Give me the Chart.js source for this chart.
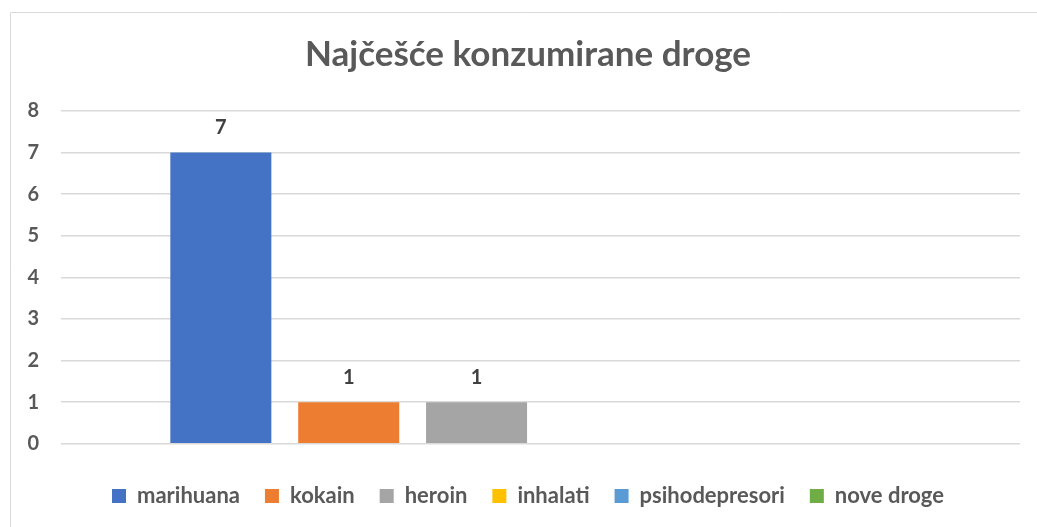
<!DOCTYPE html>
<html>
<head>
<meta charset="utf-8">
<script src="https://cdn.jsdelivr.net/npm/chart.js@4"></script>
<style>
html,body{margin:0;padding:0;background:#fff;}
#wrap{position:relative;width:1037px;height:527px;}
</style>
</head>
<body>
<div id="wrap"><canvas id="c" width="1037" height="527"></canvas></div>
<script>
const title = 'Najčešće konzumirane droge';
const categories = [''];
const seriesNames = ['marihuana', 'kokain', 'heroin', 'inhalati', 'psihodepresori', 'nove droge'];
const seriesValues = [7, 1, 1, null, null, null];
const seriesColors = ['#4472C4', '#ED7D31', '#A5A5A5', '#FFC000', '#5B9BD5', '#70AD47'];
const yTicks = [0, 1, 2, 3, 4, 5, 6, 7, 8];

const FONT = 'Lato, "Open Sans", sans-serif';
const GREY = '#595959';

const datasets = seriesNames.map((n, i) => ({
  label: n,
  data: [seriesValues[i]],
  backgroundColor: seriesColors[i],
  borderWidth: 0,
  categoryPercentage: 0.8,
  barPercentage: 0.79
}));

const frame = {
  id: 'frame',
  afterLayout(chart) {
    // widen the y-axis label clipping area so the labels are not cut off
    chart.scales.y.left = 10;
  },
  beforeDraw(chart) {
    const ctx = chart.ctx;
    ctx.save();
    ctx.strokeStyle = '#d9d9d9';
    ctx.lineWidth = 1;
    ctx.beginPath();
    ctx.moveTo(10.5, 527);
    ctx.lineTo(10.5, 12.5);
    ctx.lineTo(1037, 12.5);
    ctx.stroke();
    ctx.restore();
  }
};

const valueLabels = {
  id: 'valueLabels',
  afterDatasetsDraw(chart) {
    const ctx = chart.ctx;
    ctx.save();
    ctx.font = 'bold 20px ' + FONT;
    ctx.fillStyle = '#404040';
    ctx.textAlign = 'center';
    ctx.textBaseline = 'middle';
    chart.data.datasets.forEach((ds, i) => {
      const meta = chart.getDatasetMeta(i);
      meta.data.forEach((bar, j) => {
        const v = ds.data[j];
        if (v === null || v === undefined) return;
        ctx.fillText(String(v), bar.x, bar.y - 25);
      });
    });
    ctx.restore();
  }
};

new Chart(document.getElementById('c'), {
  type: 'bar',
  data: { labels: categories, datasets },
  options: {
    responsive: false,
    animation: false,
    layout: { padding: { left: 36, right: 17, top: 0, bottom: 10 } },
    plugins: {
      title: {
        display: true,
        text: title,
        color: GREY,
        font: { family: FONT, size: 35, weight: 'bold' },
        padding: { top: 34, bottom: 35 }
      },
      legend: {
        position: 'bottom',
        title: {
          display: true,
          text: ' ',
          font: { size: 1 },
          padding: { top: 7, bottom: 0 }
        },
        labels: {
          color: GREY,
          font: { family: FONT, size: 22, weight: 'bold' },
          boxWidth: 14,
          boxHeight: 14,
          padding: 25
        }
      },
      tooltip: { enabled: false }
    },
    scales: {
      x: {
        grid: { display: false },
        border: { display: false },
        ticks: { display: false }
      },
      y: {
        min: 0,
        max: 8,
        afterFit(scale) { scale.width = 25; },
        afterBuildTicks(scale) { scale.ticks = yTicks.map(v => ({ value: v })); },
        grid: { color: '#d9d9d9', lineWidth: 1.5, drawTicks: false },
        border: { display: false },
        ticks: {
          color: GREY,
          padding: 22,
          font: { family: FONT, size: 20, weight: 'bold' }
        }
      }
    }
  },
  plugins: [frame, valueLabels]
});
</script>
</body>
</html>
